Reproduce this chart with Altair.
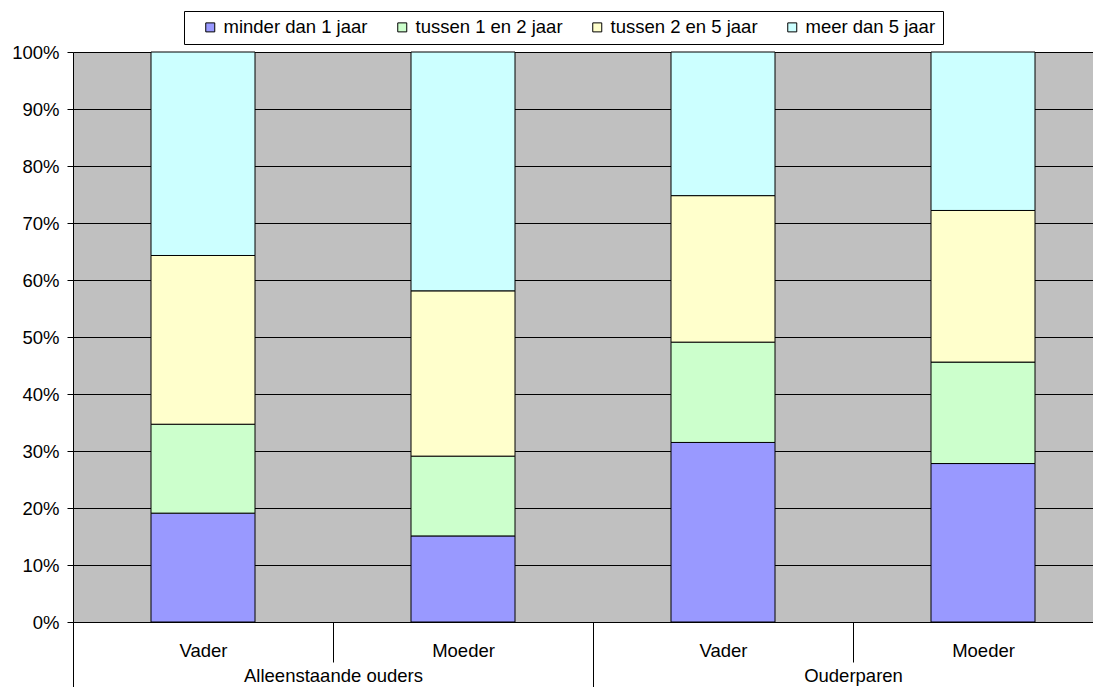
import altair as alt
import pandas as pd

# ---- data ----
groups = ["Alleenstaande ouders", "Alleenstaande ouders", "Ouderparen", "Ouderparen"]
parents = ["Vader", "Moeder", "Vader", "Moeder"]
group_names = ["Alleenstaande ouders", "Ouderparen"]
series = ["minder dan 1 jaar", "tussen 1 en 2 jaar", "tussen 2 en 5 jaar", "meer dan 5 jaar"]
colors = ["#9999FF", "#CCFFCC", "#FFFFCC", "#CCFFFF"]
minder_1 = [19.1, 15.1, 31.5, 27.8]
tussen_1_2 = [15.6, 14.0, 17.6, 17.8]
tussen_2_5 = [29.6, 29.0, 25.7, 26.6]
meer_5 = [35.7, 41.9, 25.2, 27.8]
y_ticks = [0, 10, 20, 30, 40, 50, 60, 70, 80, 90, 100]

FONT = "Liberation Sans"
FS = 18.5

keys = [f"{g}|{p}" for g, p in zip(groups, parents)]
rows = []
for si, (name, vals) in enumerate(zip(series, [minder_1, tussen_1_2, tussen_2_5, meer_5])):
    for k, g, p, v in zip(keys, groups, parents, vals):
        rows.append(dict(key=k, group=g, parent=p, series=name, idx=si, value=v))
df = pd.DataFrame(rows)
axis_df = pd.DataFrame({"key": keys})
group_df = pd.DataFrame({"group": group_names})

RANGE = [0, 1040]

bars = alt.Chart(df).mark_bar(stroke="black", strokeWidth=1).encode(
    x=alt.X("key:N", sort=keys,
            scale=alt.Scale(range=RANGE, paddingInner=0.6, paddingOuter=0.3),
            axis=None),
    y=alt.Y("value:Q", stack="zero",
            scale=alt.Scale(domain=[0, 100], nice=False),
            axis=alt.Axis(title=None, values=y_ticks, labelExpr="datum.value + '%'",
                          grid=True, gridColor="black", gridWidth=1, gridOpacity=1,
                          domain=True, domainColor="black", domainWidth=1,
                          ticks=True, tickColor="black", tickSize=6, tickWidth=1,
                          labelPadding=8, labelFont=FONT, labelFontSize=FS,
                          labelColor="black")),
    color=alt.Color("series:N", title=None,
                    scale=alt.Scale(domain=series, range=colors),
                    legend=alt.Legend(orient="none", legendX=111, legendY=-41,
                                      direction="horizontal", columns=4,
                                      fillColor="white", strokeColor="black",
                                      padding=7, cornerRadius=0,
                                      symbolType="square", symbolSize=81,
                                      symbolStrokeColor="black", symbolStrokeWidth=1,
                                      symbolOffset=10, labelOffset=4, columnPadding=15,
                                      labelFont=FONT, labelFontSize=FS,
                                      labelColor="black")),
    order=alt.Order("idx:Q", sort="ascending"),
)

sub_axis = alt.Chart(axis_df).mark_point(opacity=0).encode(
    x=alt.X("key:N", sort=keys,
            scale=alt.Scale(range=RANGE, paddingInner=0, paddingOuter=0),
            axis=alt.Axis(orient="bottom", title=None, domain=False, grid=False,
                          ticks=True, tickBand="extent", tickSize=40,
                          tickColor="black", tickWidth=1,
                          labelExpr="split(datum.label, '|')[1]", labelAngle=0,
                          labelBaseline="middle", labelPadding=-12,
                          labelFont=FONT, labelFontSize=FS, labelColor="black")),
)

group_axis = alt.Chart(group_df).mark_point(opacity=0).encode(
    x=alt.X("group:N", sort=group_names,
            scale=alt.Scale(range=RANGE, paddingInner=0, paddingOuter=0),
            axis=alt.Axis(orient="bottom", title=None, domain=False, grid=False,
                          ticks=True, tickBand="extent", tickSize=73,
                          tickColor="black", tickWidth=1, labelAngle=0,
                          labelBaseline="middle", labelPadding=-20,
                          labelFont=FONT, labelFontSize=FS, labelColor="black")),
)

chart = alt.layer(bars, sub_axis, group_axis).resolve_scale(
    x="independent"
).resolve_axis(
    x="independent"
).properties(
    width=1020, height=570,
    autosize=alt.AutoSizeParams(type="none"),
    padding={"left": 65, "top": 44, "right": 0, "bottom": 65},
    background="white",
).configure_view(
    fill="#C0C0C0", strokeWidth=0
)

chart.save("out.html", embed_options={"renderer": "svg", "actions": False})
